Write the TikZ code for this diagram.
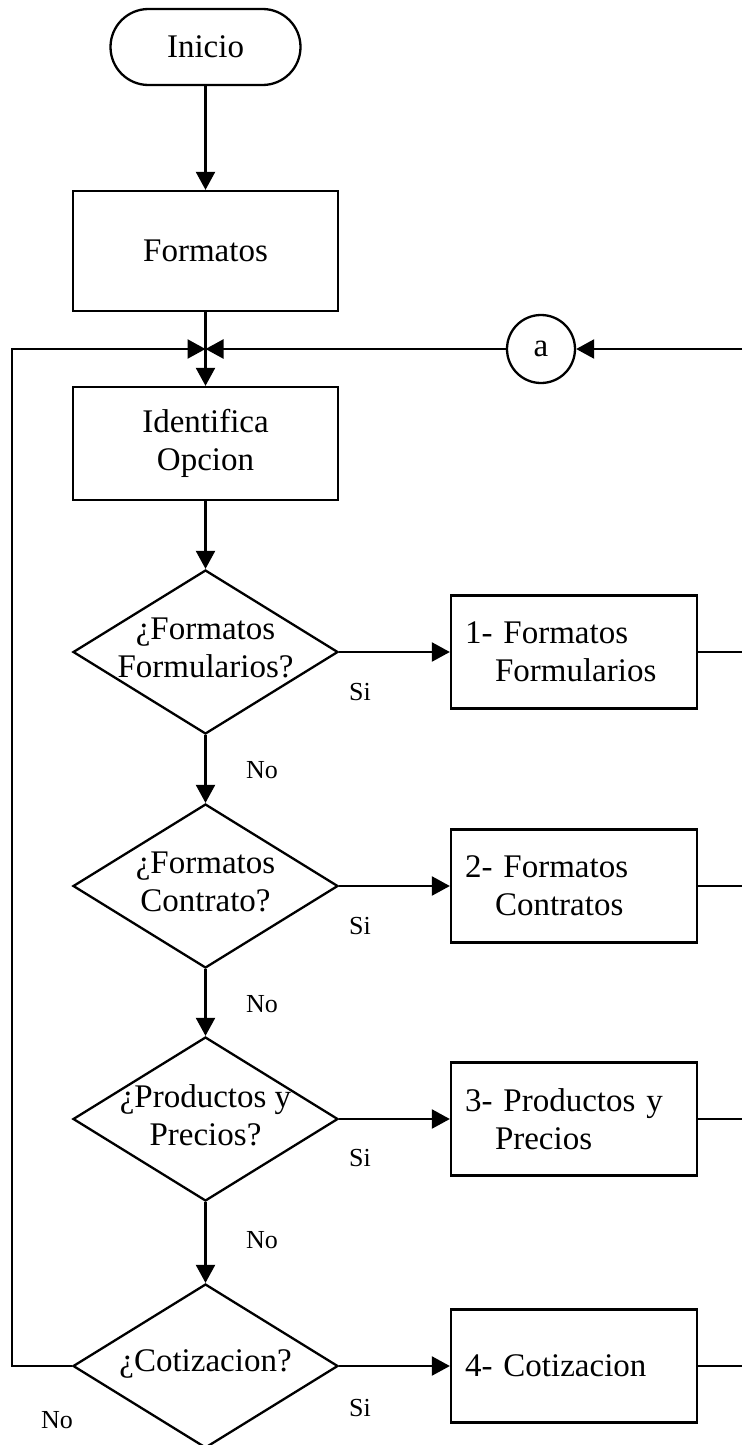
\documentclass[tikz,border=0pt]{standalone}
\usepackage{fontspec}
\setmainfont{Liberation Serif}
\usetikzlibrary{shapes.geometric,arrows.meta}
\begin{document}
\begin{tikzpicture}[x=1pt,y=-1pt,
  line width=2.3pt,
  every node/.style={font=\fontsize{33}{38}\selectfont},
  arr/.style={-{Triangle[length=18pt,width=19pt]}},
  procbox/.style={draw,minimum width=265pt,minimum height=120pt,align=center,inner sep=0pt},
  optbox/.style={draw,minimum width=246pt,minimum height=113pt,text width=218pt,align=left,inner xsep=14pt,inner ysep=0pt},
  decis/.style={draw,diamond,minimum width=265pt,minimum height=164pt,inner sep=0pt},
  dtext/.style={align=center,inner sep=0pt},
  lbl/.style={font=\fontsize{26}{30}\selectfont,inner sep=0pt},
  termnode/.style={draw,rounded corners=38pt,minimum width=190pt,minimum height=76pt},
  conn/.style={draw,circle,minimum size=68pt,inner sep=0pt}
]
\useasboundingbox (0,0) rectangle (742,1445);

% main column
\node[termnode] (ini) at (205.5,47) {Inicio};
\node[procbox] (fmt) at (205.5,251) {Formatos};
\coordinate (J) at (205.5,349);
\node[conn] (a) at (541,349) {a};
\coordinate (R0) at (742,349);
\node[procbox,minimum height=113pt] (ide) at (205.5,443.5) {Identifica\\Opcion};

% decisions
\node[decis] (d1) at (205.5,652) {};
\node[decis] (d2) at (205.5,886) {};
\node[decis] (d3) at (205.5,1119) {};
\node[decis] (d4) at (205.5,1366) {};
\node[dtext] (t1) at (205.5,648) {¿Formatos\\Formularios?};
\node[dtext] (t2) at (205.5,882) {¿Formatos\\Contrato?};
\node[dtext] (t3) at (205.5,1115) {¿Productos y\\Precios?};
\node[dtext] (t4) at (205.5,1364) {¿Cotizacion?};

% option boxes
\node[optbox] (b1) at (574,652) {1- Formatos\\\hspace*{30pt}Formularios};
\node[optbox] (b2) at (574,886) {2- Formatos\\\hspace*{30pt}Contratos};
\node[optbox] (b3) at (574,1119) {3- Productos y\\\hspace*{30pt}Precios};
\node[optbox] (b4) at (574,1366) {4- Cotizacion};
\coordinate (r1) at (742,652);
\coordinate (r2) at (742,886);
\coordinate (r3) at (742,1119);
\coordinate (r4) at (742,1366);

% labels
\node[lbl] (si1) at (360,692) {Si};
\node[lbl] (si2) at (360,926) {Si};
\node[lbl] (si3) at (360,1158) {Si};
\node[lbl] (si4) at (360,1408) {Si};
\node[lbl] (no1) at (262,770) {No};
\node[lbl] (no2) at (262,1004) {No};
\node[lbl] (no3) at (262,1240) {No};
\node[lbl] (no4) at (57,1420) {No};

% loop-back corners
\coordinate (L1) at (12,1366);
\coordinate (L2) at (12,349);

% connectors
\draw[arr] (ini) -- (fmt);
\draw (fmt.south) -- (J);
\draw[arr] (J) -- (ide.north);
\draw[arr] (R0) -- (a.east);
\draw[arr] (a.west) -- (J);
\draw[arr] (d4.west) -- (L1) -- (L2) -- (J);
\draw[arr] (ide.south) -- (d1.north);
\draw[arr] (d1.south) -- (d2.north);
\draw[arr] (d2.south) -- (d3.north);
\draw[arr] (d3.south) -- (d4.north);
\draw[arr] (d1.east) -- (b1.west);
\draw[arr] (d2.east) -- (b2.west);
\draw[arr] (d3.east) -- (b3.west);
\draw[arr] (d4.east) -- (b4.west);
\draw (b1.east) -- (r1);
\draw (b2.east) -- (r2);
\draw (b3.east) -- (r3);
\draw (b4.east) -- (r4);
\end{tikzpicture}
\end{document}
